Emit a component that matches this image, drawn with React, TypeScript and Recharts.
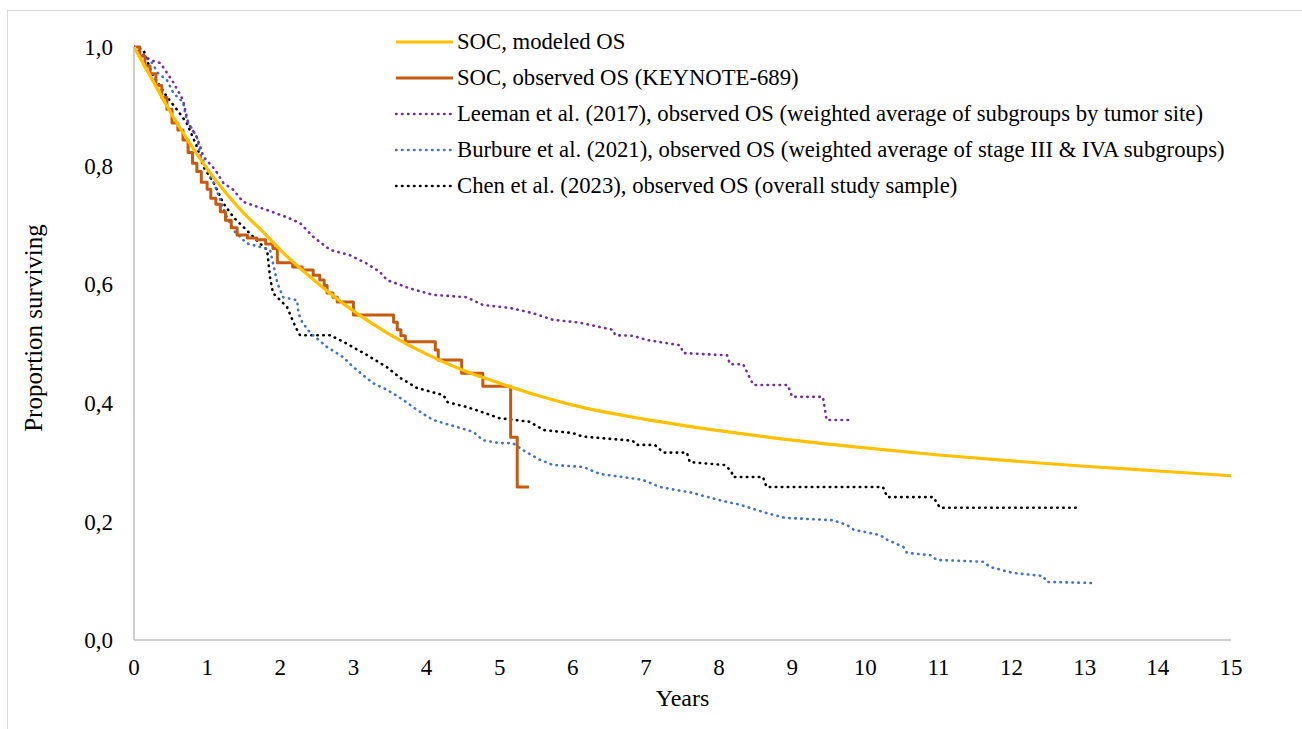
import { Line, LineChart, XAxis, YAxis, Legend, Label } from 'recharts'

// [years, proportion surviving]
const modeledOS: [number, number][] = [
  [0, 1.0], [0.25, 0.945], [0.5, 0.89], [0.75, 0.84], [1, 0.795], [1.25, 0.755], [1.5, 0.72],
  [1.75, 0.69], [2, 0.658], [2.5, 0.603], [3, 0.555], [3.5, 0.515], [4, 0.482], [4.5, 0.455],
  [5, 0.433], [5.5, 0.413], [6, 0.396], [7, 0.372], [8, 0.353], [9, 0.337], [10, 0.324],
  [11, 0.312], [12, 0.302], [13, 0.293], [14, 0.285], [15, 0.277],
]

const keynoteOS: [number, number][] = [
  [0, 1.0], [0.08, 0.985], [0.15, 0.968], [0.22, 0.955], [0.3, 0.935], [0.38, 0.915], [0.45, 0.895],
  [0.52, 0.872], [0.6, 0.86], [0.67, 0.843], [0.74, 0.822], [0.8, 0.804], [0.86, 0.79], [0.92, 0.772],
  [1.0, 0.76], [1.05, 0.745], [1.12, 0.735], [1.18, 0.722], [1.25, 0.708], [1.33, 0.695], [1.41, 0.683],
  [1.55, 0.678], [1.68, 0.675], [1.8, 0.668], [1.9, 0.66], [1.96, 0.636], [2.17, 0.629], [2.3, 0.624],
  [2.45, 0.615], [2.54, 0.607], [2.6, 0.598], [2.64, 0.585], [2.72, 0.578], [2.78, 0.57], [3.0, 0.548],
  [3.55, 0.536], [3.6, 0.523], [3.65, 0.513], [3.71, 0.503], [4.12, 0.489], [4.16, 0.472], [4.48, 0.45],
  [4.77, 0.428], [5.15, 0.342], [5.24, 0.258], [5.4, 0.258],
]

const leemanOS: [number, number][] = [
  [0, 1.0], [0.1, 0.99], [0.22, 0.978], [0.36, 0.973], [0.52, 0.944], [0.67, 0.911], [0.74, 0.872],
  [0.86, 0.848], [0.95, 0.815], [1.11, 0.793], [1.22, 0.771], [1.36, 0.759], [1.49, 0.739], [1.82, 0.725],
  [2.09, 0.713], [2.27, 0.703], [2.45, 0.68], [2.68, 0.658], [2.95, 0.649], [3.18, 0.635], [3.36, 0.621],
  [3.46, 0.607], [3.77, 0.593], [4.09, 0.582], [4.55, 0.578], [4.77, 0.565], [5.14, 0.56], [5.46, 0.551],
  [5.73, 0.54], [6.1, 0.535], [6.55, 0.523], [6.58, 0.514], [6.82, 0.513], [7.01, 0.506], [7.47, 0.497],
  [7.51, 0.484], [8.11, 0.48], [8.15, 0.465], [8.33, 0.465], [8.42, 0.442], [8.47, 0.43], [8.94, 0.43],
  [9.0, 0.41], [9.42, 0.41], [9.47, 0.371], [9.79, 0.371],
]

const burbureOS: [number, number][] = [
  [0, 1.0], [0.13, 0.983], [0.22, 0.978], [0.33, 0.956], [0.45, 0.944], [0.54, 0.922], [0.67, 0.907],
  [0.72, 0.877], [0.86, 0.848], [0.9, 0.821], [1.0, 0.793], [1.09, 0.771], [1.18, 0.742], [1.27, 0.713],
  [1.36, 0.691], [1.54, 0.669], [1.72, 0.663], [1.86, 0.658], [1.9, 0.636], [1.96, 0.602], [2.04, 0.578],
  [2.23, 0.573], [2.25, 0.551], [2.3, 0.536], [2.41, 0.518], [2.64, 0.494], [2.86, 0.477], [3.0, 0.46],
  [3.27, 0.433], [3.46, 0.422], [3.68, 0.405], [3.87, 0.388], [4.09, 0.371], [4.42, 0.359], [4.64, 0.351],
  [4.77, 0.337], [5.0, 0.332], [5.18, 0.332], [5.32, 0.32], [5.55, 0.304], [5.73, 0.295], [6.14, 0.292],
  [6.37, 0.28], [6.96, 0.27], [7.19, 0.258], [7.64, 0.248], [8.0, 0.236], [8.29, 0.228], [8.65, 0.214],
  [8.9, 0.206], [9.56, 0.202], [9.75, 0.194], [9.84, 0.186], [10.2, 0.177], [10.3, 0.169], [10.52, 0.157],
  [10.57, 0.147], [10.89, 0.143], [10.98, 0.135], [11.61, 0.132], [11.71, 0.123], [12.02, 0.113],
  [12.43, 0.108], [12.48, 0.098], [13.14, 0.096],
]

const chenOS: [number, number][] = [
  [0, 1.0], [0.13, 0.995], [0.24, 0.956], [0.36, 0.933], [0.45, 0.916], [0.59, 0.894], [0.72, 0.872],
  [0.86, 0.832], [0.95, 0.798], [1.09, 0.771], [1.22, 0.737], [1.36, 0.713], [1.54, 0.691], [1.72, 0.669],
  [1.82, 0.658], [1.86, 0.612], [1.9, 0.585], [2.09, 0.562], [2.2, 0.53], [2.27, 0.514], [2.68, 0.514],
  [2.86, 0.503], [3.18, 0.481], [3.46, 0.46], [3.64, 0.442], [3.87, 0.425], [4.23, 0.413], [4.29, 0.401],
  [4.55, 0.393], [4.77, 0.384], [5.0, 0.374], [5.41, 0.368], [5.6, 0.354], [6.0, 0.349], [6.14, 0.343],
  [6.82, 0.336], [6.87, 0.329], [7.12, 0.329], [7.24, 0.316], [7.56, 0.316], [7.6, 0.3], [8.08, 0.295],
  [8.17, 0.284], [8.19, 0.275], [8.6, 0.275], [8.65, 0.258], [10.24, 0.258], [10.3, 0.241], [10.93, 0.241],
  [11.02, 0.223], [12.9, 0.223],
]

const xTicks = [0, 1, 2, 3, 4, 5, 6, 7, 8, 9, 10, 11, 12, 13, 14, 15]
const yTicks = [0, 0.2, 0.4, 0.6, 0.8, 1.0]

const FONT = '"Liberation Serif", "Times New Roman", serif'
const DOTS = '0.5 5.5'

const toRows = (pts: [number, number][]) => pts.map(([x, y]) => ({ x, y }))

const series = [
  { name: 'SOC, modeled OS', data: modeledOS, color: '#FFC000', dash: undefined, type: 'monotone', width: 3.2 },
  { name: 'SOC, observed OS (KEYNOTE-689)', data: keynoteOS, color: '#C55A11', dash: undefined, type: 'stepAfter', width: 3 },
  { name: 'Leeman et al. (2017), observed OS (weighted average of subgroups by tumor site)', data: leemanOS, color: '#7030A0', dash: DOTS, type: 'linear', width: 2.6 },
  { name: 'Burbure et al. (2021), observed OS (weighted average of stage III & IVA subgroups)', data: burbureOS, color: '#4472C4', dash: DOTS, type: 'linear', width: 2.6 },
  { name: 'Chen et al. (2023), observed OS (overall study sample)', data: chenOS, color: '#000000', dash: DOTS, type: 'linear', width: 2.6 },
]

const LegendBox = () => (
  <div style={{ fontFamily: FONT, fontSize: 22.7, color: '#000', textAlign: 'left' }}>
    {series.map((s) => (
      <div key={s.name} style={{ display: 'flex', alignItems: 'center', height: 36, whiteSpace: 'nowrap' }}>
        <svg width={62} height={10}>
          <line x1={1} y1={5} x2={58} y2={5} stroke={s.color} strokeWidth={s.width}
            strokeDasharray={s.dash} strokeLinecap={s.dash ? 'round' : 'butt'} />
        </svg>
        <span>{s.name}</span>
      </div>
    ))}
  </div>
)

const YLabel = () => {
  const cx = 33
  const cy = 328
  return (
    <text x={cx} y={cy} transform={`rotate(-90, ${cx}, ${cy})`} textAnchor="middle" dominantBaseline="central"
      fontFamily={FONT} fontSize={25} fill="#000">
      Proportion surviving
    </text>
  )
}

export default function App() {
  return (
    <div style={{ position: 'absolute', left: 0, top: 0, width: 1302, height: 729, background: '#fff', overflow: 'hidden' }}>
      <div style={{ position: 'absolute', left: 7, top: 10, width: 1400, height: 800, borderLeft: '1.5px solid #d9d9d9', borderTop: '1.5px solid #d9d9d9' }} />
      <div style={{ position: 'absolute', left: 0, top: 0 }}>
        <LineChart width={1302} height={729} margin={{ top: 47, right: 71, left: 14, bottom: 19 }}>
          <XAxis
            type="number"
            dataKey="x"
            domain={[0, 15]}
            ticks={xTicks}
            allowDataOverflow
            tickLine={false}
            tickSize={0}
            tickMargin={19}
            height={70}
            axisLine={{ stroke: '#bfbfbf', strokeWidth: 1.5 }}
            tick={{ fill: '#000', fontFamily: FONT, fontSize: 23 }}
          >
            <Label value="Years" position="insideBottom" offset={4} style={{ fontFamily: FONT, fontSize: 24, fill: '#000' }} />
          </XAxis>
          <YAxis
            type="number"
            domain={[0, 1]}
            ticks={yTicks}
            width={120}
            tickLine={false}
            tickSize={0}
            tickMargin={21}
            axisLine={{ stroke: '#bfbfbf', strokeWidth: 1.5 }}
            tick={{ fill: '#000', fontFamily: FONT, fontSize: 23 }}
            tickFormatter={(v: number) => v.toFixed(1).replace('.', ',')}
          >
            <Label content={YLabel} />
          </YAxis>
          <Legend
            layout="horizontal"
            align="center"
            verticalAlign="middle"
            wrapperStyle={{ position: 'absolute', top: 24, left: 395, width: 900 }}
            content={LegendBox}
          />
          {series.slice().reverse().map((s) => (
            <Line
              key={s.name}
              name={s.name}
              data={toRows(s.data)}
              dataKey="y"
              type={s.type as any}
              stroke={s.color}
              strokeWidth={s.width}
              strokeDasharray={s.dash}
              strokeLinecap={s.dash ? 'round' : 'butt'}
              strokeLinejoin="round"
              dot={false}
              activeDot={false}
              isAnimationActive={false}
            />
          ))}
        </LineChart>
      </div>
    </div>
  )
}
